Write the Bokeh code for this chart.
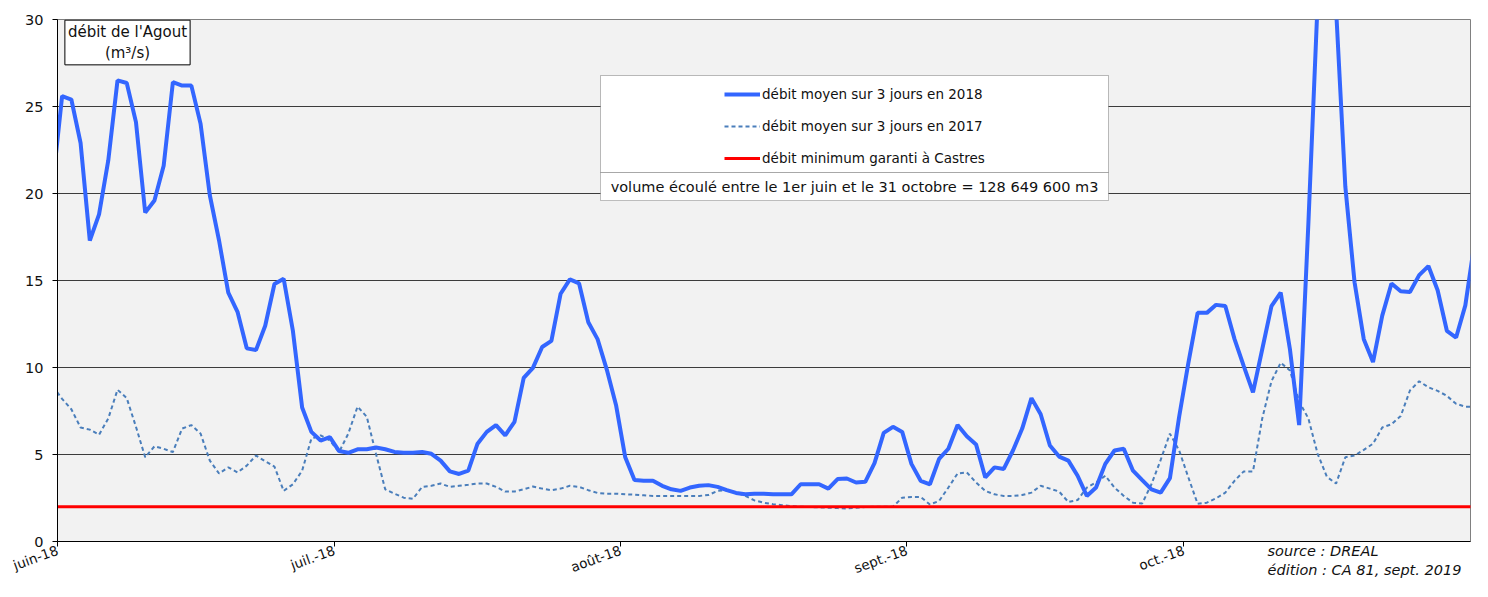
import math
import pandas as pd
from bokeh.plotting import figure
from bokeh.models import (Range1d, FixedTicker, Label, BoxAnnotation, Legend,
                          LegendItem)
from bokeh.embed import file_html
from bokeh.resources import INLINE

# ---------------- data ----------------
origin = pd.Timestamp("2018-06-01")
dates = pd.date_range("2018-05-31", "2018-11-01", freq="D")

debit_2018 = [
    20.6, 25.6, 25.4, 22.9, 17.3, 18.8, 21.9, 26.5, 26.35, 24.1,
    18.9, 19.6, 21.6, 26.4, 26.2, 26.2, 24.0, 19.9, 17.3, 14.3,
    13.2, 11.1, 11.0, 12.4, 14.8, 15.1, 12.1, 7.7, 6.3, 5.8,
    6.0, 5.2, 5.1, 5.3, 5.3, 5.4, 5.3, 5.15, 5.1, 5.1,
    5.14, 5.04, 4.65, 4.03, 3.88, 4.07, 5.62, 6.30, 6.69, 6.10,
    6.88, 9.40, 9.98, 11.18, 11.53, 14.24, 15.06, 14.83, 12.60, 11.63,
    9.88, 7.85, 4.84, 3.53, 3.49, 3.49, 3.20, 3.00, 2.91, 3.10,
    3.20, 3.24, 3.14, 2.95, 2.79, 2.71, 2.75, 2.75, 2.71, 2.71,
    2.71, 3.29, 3.29, 3.29, 3.04, 3.59, 3.62, 3.39, 3.43, 4.50,
    6.24, 6.59, 6.30, 4.46, 3.49, 3.29, 4.75, 5.33, 6.69, 6.05,
    5.58, 3.68, 4.26, 4.17, 5.23, 6.49, 8.24, 7.31, 5.52, 4.88,
    4.65, 3.78, 2.62, 3.10, 4.46, 5.23, 5.33, 4.07, 3.53, 3.00,
    2.81, 3.64, 7.17, 10.27, 13.14, 13.14, 13.60, 13.53, 11.63, 10.08,
    8.57, 11.05, 13.53, 14.30, 11.05, 6.69, 18.3, 31.0, 42.0, 30.6,
    20.4, 14.9, 11.63, 10.31, 12.98, 14.83, 14.38, 14.34, 15.31, 15.83,
    14.44, 12.11, 11.72, 13.57, 17.2,
]

debit_2017 = [
    8.9, 8.2, 7.6, 6.55, 6.43, 6.14, 7.07, 8.72, 8.24, 6.59,
    4.84, 5.47, 5.33, 5.14, 6.49, 6.69, 6.20, 4.65, 3.91, 4.26,
    3.97, 4.36, 4.94, 4.61, 4.30, 2.91, 3.29, 4.07, 5.91, 6.10,
    5.81, 5.14, 6.20, 7.75, 7.17, 5.04, 3.00, 2.75, 2.52, 2.45,
    3.14, 3.20, 3.33, 3.14, 3.20, 3.26, 3.33, 3.33, 3.14, 2.87,
    2.87, 3.00, 3.16, 3.04, 2.95, 3.04, 3.20, 3.14, 2.95, 2.79,
    2.75, 2.75, 2.71, 2.69, 2.66, 2.62, 2.62, 2.62, 2.62, 2.62,
    2.62, 2.67, 2.91, 2.95, 2.81, 2.62, 2.36, 2.23, 2.14, 2.09,
    2.03, 2.00, 1.98, 1.96, 1.94, 1.92, 1.90, 1.94, 1.98, 2.00,
    2.00, 2.00, 2.52, 2.56, 2.56, 2.13, 2.33, 3.10, 3.91, 3.97,
    3.39, 2.91, 2.71, 2.62, 2.62, 2.67, 2.81, 3.20, 3.04, 2.87,
    2.27, 2.38, 3.10, 3.39, 3.78, 3.10, 2.62, 2.23, 2.19, 3.29,
    4.69, 6.20, 5.23, 3.68, 2.17, 2.23, 2.48, 2.81, 3.49, 4.03,
    4.03, 7.07, 9.21, 10.27, 9.83, 8.04, 7.07, 5.04, 3.72, 3.33,
    4.84, 4.94, 5.27, 5.62, 6.55, 6.74, 7.21, 8.68, 9.21, 8.86,
    8.66, 8.37, 7.91, 7.75, 7.75,
]

debit_min_garanti = 2.0

month_starts = pd.to_datetime(["2018-06-01", "2018-07-01", "2018-08-01",
                               "2018-09-01", "2018-10-01"])
month_labels = ["juin-18", "juil.-18", "août-18", "sept.-18", "oct.-18"]
y_ticks = [0, 5, 10, 15, 20, 25, 30]
grid_ticks = [5, 10, 15, 20, 25]

legend_labels = ["débit moyen sur 3 jours en 2018",
                 "débit moyen sur 3 jours en 2017",
                 "débit minimum garanti à Castres"]
volume_text = "volume écoulé entre le 1er juin et le 31 octobre = 128 649 600 m3"
title_text = "débit de l'Agout\n(m³/s)"
source_lines = ["source : DREAL", "édition : CA 81, sept. 2019"]

# ---------------- derived ----------------
x = [(d - origin).days + 0.5 for d in dates]      # daily values plotted at mid-day
x_end = (pd.Timestamp("2018-11-01") - origin).days + 0.06
tick_pos = [int((m - origin).days) for m in month_starts]

FONT = "DejaVu Sans"
TXT = "#111111"
NBSP = "\u00a0"

p = figure(width=1472, height=581, output_backend="svg", toolbar_location=None,
           x_range=Range1d(0, x_end), y_range=Range1d(0, 30),
           min_border_left=57, min_border_right=2, min_border_top=19,
           min_border_bottom=40,
           background_fill_color="#F2F2F2", border_fill_color="white",
           outline_line_color="#808080", outline_line_width=1)

# axes
p.yaxis.ticker = FixedTicker(ticks=y_ticks)
p.yaxis.major_label_text_font = FONT
p.yaxis.major_label_text_font_size = "14.5px"
p.yaxis.major_label_text_color = TXT
p.yaxis.axis_line_color = "black"
p.yaxis.major_tick_line_color = "black"
p.yaxis.major_tick_out = 5
p.yaxis.major_tick_in = 0
p.yaxis.minor_tick_line_color = None
p.yaxis.major_label_standoff = 9

p.xaxis.ticker = FixedTicker(ticks=tick_pos)
p.xaxis.major_label_overrides = {t: l for t, l in zip(tick_pos, month_labels)}
p.xaxis.major_label_orientation = math.radians(20)
p.xaxis.major_label_text_font = FONT
p.xaxis.major_label_text_font_size = "13.5px"
p.xaxis.major_label_text_color = TXT
p.xaxis.axis_line_color = "black"
p.xaxis.major_tick_line_color = "black"
p.xaxis.major_tick_out = 5
p.xaxis.major_tick_in = 0
p.xaxis.minor_tick_line_color = None
p.xaxis.major_label_standoff = 3
# source / edition note, drawn as the x axis label, pulled up beside the tick labels
# (the block is centred on the frame's right end; trailing no-break spaces push
#  the visible words to the left of that point)
p.xaxis.axis_label = (source_lines[0] + NBSP * 64 + "\n" +
                      source_lines[1] + NBSP * 46)
p.xaxis.axis_label_align = "end"
p.xaxis.axis_label_standoff = -44
p.xaxis.axis_label_text_font = FONT
p.xaxis.axis_label_text_font_size = "14.5px"
p.xaxis.axis_label_text_font_style = "italic"
p.xaxis.axis_label_text_color = TXT

p.xgrid.visible = False
p.ygrid.ticker = FixedTicker(ticks=grid_ticks)
p.ygrid.grid_line_color = "#3c3c3c"
p.ygrid.grid_line_width = 1.2

# series
r17 = p.line(x, debit_2017, line_color="#4A7EBB", line_width=2, line_dash="4 3")
rmin = p.line(x, [debit_min_garanti] * len(x), line_color="#FF0000", line_width=3)
r18 = p.line(x, debit_2018, line_color="#3366FF", line_width=4)

# legend frame + volume box (screen units relative to the plot frame)
BOX_L, BOX_R = 543, 1051
p.add_layout(BoxAnnotation(left=BOX_L, right=BOX_R, top=466, bottom=369,
                           left_units="screen", right_units="screen",
                           top_units="screen", bottom_units="screen",
                           fill_color="white", fill_alpha=1.0,
                           line_color="#222222", line_width=1))
p.add_layout(BoxAnnotation(left=BOX_L, right=BOX_R, top=369, bottom=341,
                           left_units="screen", right_units="screen",
                           top_units="screen", bottom_units="screen",
                           fill_color="white", fill_alpha=1.0,
                           line_color="#333333", line_width=1))

legend = Legend(items=[LegendItem(label=legend_labels[0], renderers=[r18]),
                       LegendItem(label=legend_labels[1], renderers=[r17]),
                       LegendItem(label=legend_labels[2], renderers=[rmin])],
                location=(667, 373), padding=0, margin=0,
                border_line_alpha=0, background_fill_alpha=0,
                glyph_width=36, glyph_height=20, label_height=20,
                spacing=12, label_standoff=2,
                label_text_font=FONT, label_text_font_size="13.5px",
                label_text_color=TXT)
p.add_layout(legend)

p.add_layout(Label(x=(BOX_L + BOX_R) / 2, y=355, x_units="screen", y_units="screen",
                   text=volume_text, text_align="center", text_baseline="middle",
                   text_font=FONT, text_font_size="14.5px", text_color=TXT))

# title box
p.add_layout(Label(x=70, y=499, x_units="screen", y_units="screen",
                   text=title_text, text_align="center", text_baseline="middle",
                   text_font=FONT, text_font_size="15px", text_color=TXT,
                   text_line_height=1.15,
                   background_fill_color="white", border_line_color="black",
                   border_line_width=1, padding=3))

open("out.html", "w").write(file_html(p, INLINE))
